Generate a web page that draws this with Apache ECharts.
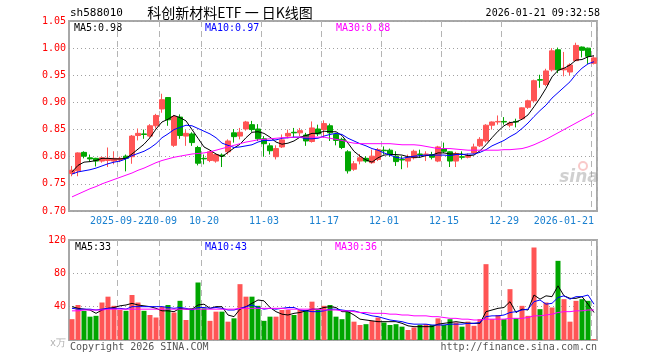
<!DOCTYPE html>
<html><head><meta charset="utf-8">
<script src="https://cdn.jsdelivr.net/npm/echarts@6/dist/echarts.min.js"></script>
<style>html,body{margin:0;padding:0;background:#fff}#c{width:660px;height:360px}</style>
</head><body><div id="c"></div>
<script>
const dates = ['2025-09-10','2025-09-11','2025-09-12','2025-09-15','2025-09-16','2025-09-17','2025-09-18','2025-09-19','2025-09-22','2025-09-23','2025-09-24','2025-09-25','2025-09-26','2025-09-29','2025-09-30',
'2025-10-09','2025-10-10','2025-10-13','2025-10-14','2025-10-15','2025-10-16','2025-10-17','2025-10-20','2025-10-21','2025-10-22','2025-10-23','2025-10-24','2025-10-27','2025-10-28','2025-10-29','2025-10-30','2025-10-31',
'2025-11-03','2025-11-04','2025-11-05','2025-11-06','2025-11-07','2025-11-10','2025-11-11','2025-11-12','2025-11-13','2025-11-14','2025-11-17','2025-11-18','2025-11-19','2025-11-20','2025-11-21','2025-11-24','2025-11-25','2025-11-26','2025-11-27','2025-11-28',
'2025-12-01','2025-12-02','2025-12-03','2025-12-04','2025-12-05','2025-12-08','2025-12-09','2025-12-10','2025-12-11','2025-12-12','2025-12-15','2025-12-16','2025-12-17','2025-12-18','2025-12-19','2025-12-22','2025-12-23','2025-12-24','2025-12-25','2025-12-26','2025-12-29','2025-12-30','2025-12-31',
'2026-01-05','2026-01-06','2026-01-07','2026-01-08','2026-01-09','2026-01-12','2026-01-13','2026-01-14','2026-01-15','2026-01-16','2026-01-19','2026-01-20','2026-01-21'];

const tickDates  = ['2025-09-22','2025-10-09','2025-10-20','2025-11-03','2025-11-17','2025-12-01','2025-12-15','2025-12-29','2026-01-21'];
const tickLabels = ['2025-09-22','10-09','10-20','11-03','11-17','12-01','12-15','12-29','2026-01-21'];

const opens = [.769,.774,.808,.798,.797,.792,.793,.792,.794,.801, .800,.839,.842,.838,.857,.888,.909,.821,.873,.838,
 .842,.817,.797,.793,.792,.803,.809,.844,.838,.851, .859,.851,.833,.820,.800,.818,.838,.845,.844,.840,
 .828,.851,.850,.857,.841,.832,.809,.777,.792,.797, .789,.795,.812,.812,.801,.795,.792,.798,.805,.804,
 .804,.792,.815,.809,.792,.800,.799,.807,.820,.829, .858,.864,.865,.858,.865,.870,.891,.903,.942,.933,
 .960,.997,.960,.956,.977,1.002,1.000,.972];
const closes = [.775,.807,.801,.796,.792,.798,.797,.797,.797,.797, .838,.843,.841,.857,.876,.905,.868,.874,.839,.843,
 .826,.788,.796,.809,.804,.801,.829,.837,.845,.864, .850,.833,.824,.811,.815,.831,.843,.844,.848,.829,
 .853,.842,.861,.844,.830,.817,.774,.787,.798,.792, .801,.813,.811,.804,.791,.794,.798,.810,.804,.805,
 .799,.818,.810,.792,.806,.799,.802,.818,.832,.858, .864,.865,.864,.862,.864,.890,.903,.940,.941,.958,
 .995,.960,.963,.969,1.005,.996,.985,.982];
const lows = [.764,.764,.797,.791,.782,.789,.781,.786,.790,.773, .787,.830,.833,.835,.852,.881,.857,.818,.833,.820,
 .820,.784,.786,.790,.789,.781,.804,.826,.832,.848, .846,.829,.800,.804,.795,.816,.834,.836,.838,.820,
 .826,.838,.835,.829,.821,.814,.769,.774,.786,.789, .787,.792,.804,.800,.783,.777,.780,.795,.798,.792,
 .795,.790,.807,.781,.781,.795,.797,.805,.818,.826, .850,.859,.859,.854,.854,.868,.888,.900,.927,.930,
 .957,.954,.948,.950,.976,.983,.971,.970];
const highs = [.783,.808,.810,.804,.798,.800,.817,.810,.800,.804, .840,.852,.850,.860,.879,.916,.910,.877,.878,.849,
 .845,.820,.804,.811,.806,.806,.832,.851,.853,.866, .866,.860,.838,.825,.821,.841,.850,.853,.853,.844,
 .865,.859,.867,.861,.844,.835,.812,.792,.805,.801, .813,.816,.819,.815,.810,.801,.804,.813,.813,.810,
 .809,.820,.826,.810,.809,.810,.806,.824,.836,.860, .865,.876,.873,.865,.870,.891,.905,.942,.951,.962,
 1.000,1.001,.993,.972,1.010,1.003,1.001,.985];

const ma5 = [.772,.784,.790,.791,.793,.797,.797,.796,.796,.797, .805,.814,.823,.835,.851,.864,.869,.876,.872,.866,
 .850,.834,.818,.812,.805,.800,.808,.816,.823,.835, .845,.846,.843,.836,.827,.823,.825,.829,.836,.839,
 .843,.843,.847,.846,.846,.839,.825,.810,.801,.794, .790,.798,.803,.804,.804,.803,.800,.799,.799,.802,
 .803,.807,.807,.805,.805,.805,.802,.803,.811,.822, .835,.847,.857,.863,.864,.869,.877,.892,.908,.926,
 .947,.959,.963,.969,.978,.979,.984,.986];
const ma10 = [.768,.772,.774,.776,.779,.783,.787,.790,.792,.796, .802,.806,.810,.816,.824,.835,.842,.850,.854,.858,
 .857,.852,.847,.842,.835,.825,.821,.817,.818,.820, .822,.827,.830,.830,.831,.834,.835,.836,.836,.833,
 .833,.834,.838,.841,.843,.841,.834,.829,.824,.820, .815,.812,.807,.803,.799,.797,.799,.801,.802,.803,
 .803,.803,.803,.802,.804,.804,.805,.805,.808,.813, .820,.825,.830,.837,.843,.852,.862,.874,.885,.895,
 .908,.918,.928,.938,.952,.963,.971,.975];
const ma30 = [.726,.731,.736,.741,.745,.750,.754,.758,.762,.766, .770,.775,.779,.784,.789,.793,.796,.799,.801,.803,
 .805,.806,.807,.809,.812,.815,.818,.821,.824,.827, .829,.831,.832,.833,.834,.835,.835,.836,.836,.836,
 .836,.836,.836,.834,.832,.830,.827,.825,.824,.824, .824,.824,.824,.824,.823,.822,.822,.822,.821,.819,
 .817,.815,.815,.815,.814,.813,.812,.812,.812,.812, .812,.812,.813,.813,.814,.815,.818,.822,.827,.832,
 .838,.844,.850,.856,.862,.868,.874,.880];

const vols = [25,42,35,28,29,45,52,41,36,35, 54,45,35,30,27,40,42,33,47,24, 38,69,38,23,34,34,22,26,67,52,
 52,41,23,28,28,36,36,30,36,36, 46,36,41,42,28,25,34,22,18,19, 23,27,21,18,19,16,12,15,18,19,
 18,26,18,25,21,16,22,17,25,91, 25,30,25,61,26,41,29,111,37,45, 39,95,49,22,47,49,47,1];
const vma5 = [40,38,37,36,32,36,38,39,41,42, 44,42,41,40,38,35,35,34,38,37, 37,42,43,38,40,40,30,28,37,40,
 44,48,47,39,34,31,30,32,33,35, 37,37,39,40,39,34,34,30,25,24, 23,22,22,22,22,20,17,16,16,16,
 16,19,20,21,22,21,20,20,20,34, 36,38,39,46,33,37,36,54,49,53, 52,65,53,50,50,52,43,33];
const vma10 = [38,37,37,37,36,37,38,38,38,37, 40,40,40,40,40,40,39,38,39,38, 36,39,39,38,39,38,36,36,38,40,
 42,39,37,38,37,38,39,39,36,35, 34,34,35,37,37,36,35,35,33,31, 29,28,26,24,23,22,20,19,19,19,
 18,18,18,19,19,19,20,20,21,28, 29,29,30,33,34,36,37,46,48,43, 44,51,53,49,52,52,54,43];
const vma30 = [35,35,36,36,36,36,37,37,37,37, 37,37,37,37,37,37,37,37,37,37, 37,37,37,37,37,37,37,37,38,38,
 38,38,38,38,38,38,37,37,37,37, 37,37,36,36,36,35,35,34,33,33, 32,32,32,31,31,30,30,29,29,29,
 28,28,27,26,26,25,25,24,24,25, 25,25,25,26,26,26,27,29,29,30, 31,33,34,34,35,35,36,36];

const priceLegend = ['MA5:0.98','MA10:0.97','MA30:0.88'];
const volLegend = ['MA5:33','MA10:43','MA30:36'];
const maColors = ['#000000','#0000ff','#ff00ff'];

const UP = '#ff5555', DOWN = '#00a600';
const MONO = '"DejaVu Sans Mono", "Liberation Mono", monospace';
const tickIdx = tickDates.map(d => dates.indexOf(d));
const firstTick = tickIdx[0];

const candleData = dates.map((d,i) => [opens[i], closes[i], lows[i], highs[i]]);
const volData = vols.map((v,i) => ({value: v, itemStyle: {color: closes[i] >= opens[i] ? UP : DOWN}}));

const chart = echarts.init(document.getElementById('c'), null, {renderer: 'canvas'});
const gridL = 69, gridW = 528;
const splitDash = {show: true, interval: (i) => tickIdx.includes(i), lineStyle: {color: '#b4b4b4', type: [6, 4], width: 1}};
const labelFmt = (v) => { const k = tickDates.indexOf(v); return k >= 0 ? tickLabels[k] : ''; };
const labelBase = {color: '#1a80d0', fontFamily: MONO, fontSize: 10, margin: 5, hideOverlap: false, formatter: labelFmt};
function maLine(data, color, xi, yi) {
  return {type: 'line', data: data, xAxisIndex: xi, yAxisIndex: yi, showSymbol: false, symbol: 'none',
    lineStyle: {color: color, width: 1}, itemStyle: {color: color}, silent: true, animation: false, z: 5};
}
function txt(x, y, s, color, size, align, font) {
  return {type: 'text', x: x, y: y, silent: true,
    style: {text: s, fill: color, font: (size || 10) + 'px ' + (font || MONO), textAlign: align || 'left', textVerticalAlign: 'middle'}};
}

chart.setOption({
  animation: false,
  backgroundColor: '#ffffff',
  grid: [
    {left: gridL, width: gridW, top: 21, height: 190, show: true, borderColor: '#a8a8a8', borderWidth: 2, backgroundColor: 'transparent'},
    {left: gridL, width: gridW, top: 240, height: 100, show: true, borderColor: '#a8a8a8', borderWidth: 2, backgroundColor: 'transparent'}
  ],
  xAxis: [
    {type: 'category', data: dates, boundaryGap: true, gridIndex: 0, position: 'bottom',
      axisLine: {show: false}, axisTick: {show: false}, splitLine: splitDash,
      axisLabel: Object.assign({}, labelBase, {interval: (i) => tickIdx.includes(i) && i !== firstTick,
        showMinLabel: true, showMaxLabel: true, alignMaxLabel: 'right'})},
    {type: 'category', data: dates, boundaryGap: true, gridIndex: 1,
      axisLine: {show: false}, axisTick: {show: false}, splitLine: splitDash, axisLabel: {show: false}},
    {type: 'category', data: dates, boundaryGap: true, gridIndex: 0, position: 'bottom', offset: 0,
      axisLine: {show: false}, axisTick: {show: false}, splitLine: {show: false},
      axisLabel: Object.assign({}, labelBase, {interval: (i) => i === firstTick, showMinLabel: true, showMaxLabel: false})}
  ],
  yAxis: [
    {type: 'value', gridIndex: 0, min: 0.70, max: 1.05, interval: 0.05, position: 'left',
      axisLine: {show: false}, axisTick: {show: false},
      axisLabel: {color: '#ff0000', fontFamily: MONO, fontSize: 10, margin: 3, formatter: (v) => v.toFixed(2)},
      splitLine: {show: true, lineStyle: {color: '#a0a0a0', type: [1, 3], width: 1}}},
    {type: 'value', gridIndex: 1, min: 0, max: 120, interval: 40, position: 'left',
      axisLine: {show: false}, axisTick: {show: false},
      axisLabel: {color: '#ff0000', fontFamily: MONO, fontSize: 10, margin: 3,
        formatter: (v) => v === 0 ? '{u|x万}' : String(v), rich: {u: {color: '#b0b0b0', fontFamily: MONO, fontSize: 10, padding: [6, 0, 0, 0]}}},
      splitLine: {show: true, lineStyle: {color: '#a0a0a0', type: [1, 3], width: 1}}}
  ],
  series: [
    {type: 'candlestick', xAxisIndex: 0, yAxisIndex: 0, data: candleData, barWidth: 5,
      itemStyle: {color: UP, color0: DOWN, borderColor: UP, borderColor0: DOWN, borderWidth: 1}, z: 3},
    maLine(ma5, maColors[0], 0, 0), maLine(ma10, maColors[1], 0, 0), maLine(ma30, maColors[2], 0, 0),
    {type: 'bar', xAxisIndex: 1, yAxisIndex: 1, data: volData, barWidth: 5, z: 3},
    maLine(vma5, maColors[0], 1, 1), maLine(vma10, maColors[1], 1, 1), maLine(vma30, maColors[2], 1, 1)
  ],
  graphic: [
    txt(70, 13, 'sh588010', '#000', 11),
    txt(230, 13, '科创新材料ETF 一 日K线图', '#000', 14, 'center', '"Noto Sans CJK SC", sans-serif'),
    txt(600, 13, '2026-01-21 09:32:58', '#000', 10, 'right'),
    txt(74, 28, priceLegend[0], maColors[0], 10),
    txt(205, 28, priceLegend[1], maColors[1], 10),
    txt(336, 28, priceLegend[2], maColors[2], 10),
    txt(75, 247, volLegend[0], maColors[0], 10),
    txt(205, 247, volLegend[1], maColors[1], 10),
    txt(335, 247, volLegend[2], maColors[2], 10),
    txt(70, 347, 'Copyright 2026 SINA.COM', '#555', 10),
    txt(597, 347, 'http://finance.sina.com.cn', '#555', 10, 'right'),
    {type: 'text', x: 579, y: 178, silent: true, z: 1,
      style: {text: 'sina', fill: 'rgba(150,150,150,0.45)', font: 'italic bold 17px "DejaVu Sans", sans-serif', textAlign: 'center', textVerticalAlign: 'middle'}},
    {type: 'circle', shape: {cx: 583, cy: 166, r: 4}, silent: true, z: 1,
      style: {fill: 'none', stroke: 'rgba(240,120,120,0.4)', lineWidth: 2}}
  ]
});
</script>
</body></html>
